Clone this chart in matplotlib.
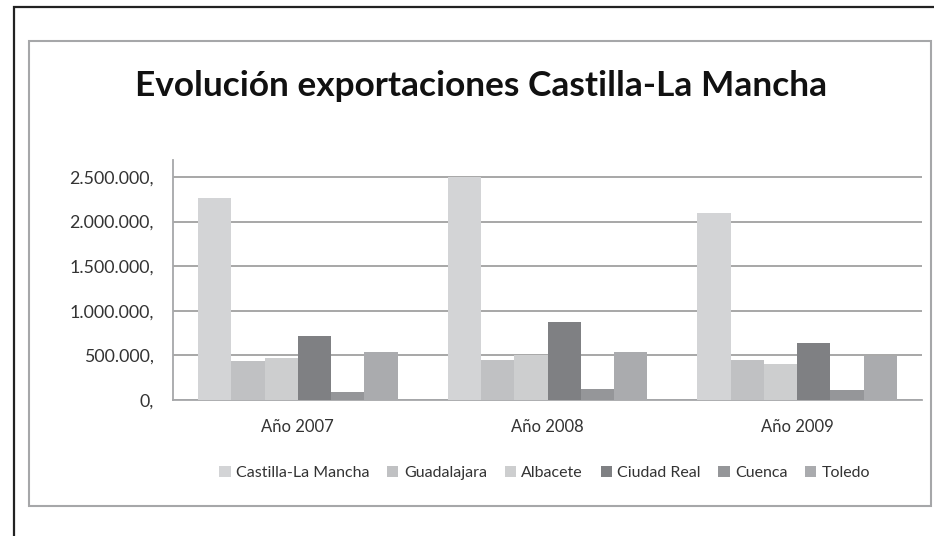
import numpy as np
import matplotlib.pyplot as plt
from matplotlib.patches import Rectangle
from matplotlib.ticker import FuncFormatter

years = ['Año 2007', 'Año 2008', 'Año 2009']
provinces = ['Castilla-La Mancha', 'Guadalajara', 'Albacete',
             'Ciudad Real', 'Cuenca', 'Toledo']
castilla = [2268000, 2497000, 2100000]
guadalajara = [437000, 448000, 445000]
albacete = [467000, 501000, 400000]
ciudad_real = [721000, 871000, 642000]
cuenca = [86000, 123000, 112000]
toledo = [538000, 538000, 493000]
yticks = [0, 500000, 1000000, 1500000, 2000000, 2500000]

series = [castilla, guadalajara, albacete, ciudad_real, cuenca, toledo]
colors = ['#d3d4d6', '#c0c1c3', '#cdcecf', '#7f8083', '#959699', '#aaabae']

plt.rcParams['font.family'] = ['Lato', 'DejaVu Sans']

W, H = 934, 536
fig = plt.figure(figsize=(W / 100, H / 100), dpi=100)

# frames: black outer, grey inner
fig.add_artist(Rectangle((14 / W, -0.1), 1.2, (H - 7) / H + 0.1,
                         transform=fig.transFigure, fill=False,
                         edgecolor='#222222', linewidth=1.6))
fig.add_artist(Rectangle((29 / W, 1 - 506 / H), (931 - 29) / W, (506 - 41) / H,
                         transform=fig.transFigure, fill=False,
                         edgecolor='#a6a7a9', linewidth=1.5))

ax = fig.add_axes([173 / W, 1 - 400 / H, (922 - 173) / W, (400 - 160) / H])

x = np.arange(len(years))
n = len(series)
width = 0.8 / n
for i, (vals, c, name) in enumerate(zip(series, colors, provinces)):
    ax.bar(x - 0.4 + width * (i + 0.5), vals, width, color=c,
           label=name, zorder=3)

ax.set_xlim(-0.5, len(years) - 0.5)
ax.set_ylim(0, 2690000)
ax.set_yticks(yticks)
ax.yaxis.set_major_formatter(
    FuncFormatter(lambda v, p: f'{int(v):,}'.replace(',', '.') + ','))
ax.set_xticks(x)
ax.set_xticklabels(years)
ax.grid(axis='y', color='#a0a0a0', linewidth=1.3, zorder=0)
ax.tick_params(axis='both', length=0, colors='#333333')
ax.tick_params(axis='x', pad=14, labelsize=12)
ax.tick_params(axis='y', pad=14, labelsize=12.8)
for s in ['top', 'right']:
    ax.spines[s].set_visible(False)
ax.spines['left'].set_color('#a6a7a9')
ax.spines['bottom'].set_color('#a6a7a9')
ax.spines['left'].set_linewidth(1.3)
ax.spines['bottom'].set_linewidth(1.3)

fig.text(481 / W, 1 - 86 / H, 'Evolución exportaciones Castilla-La Mancha',
         ha='center', va='center', fontsize=25.4, fontweight='bold',
         color='#111111')

leg = fig.legend(loc='center', bbox_to_anchor=(545 / W, 1 - 473 / H),
                 ncol=6, frameon=False, fontsize=11.5, handlelength=0.7,
                 handleheight=0.7, handletextpad=0.35, columnspacing=1.1)
for t in leg.get_texts():
    t.set_color('#333333')

fig.savefig('out.png', dpi=100)
